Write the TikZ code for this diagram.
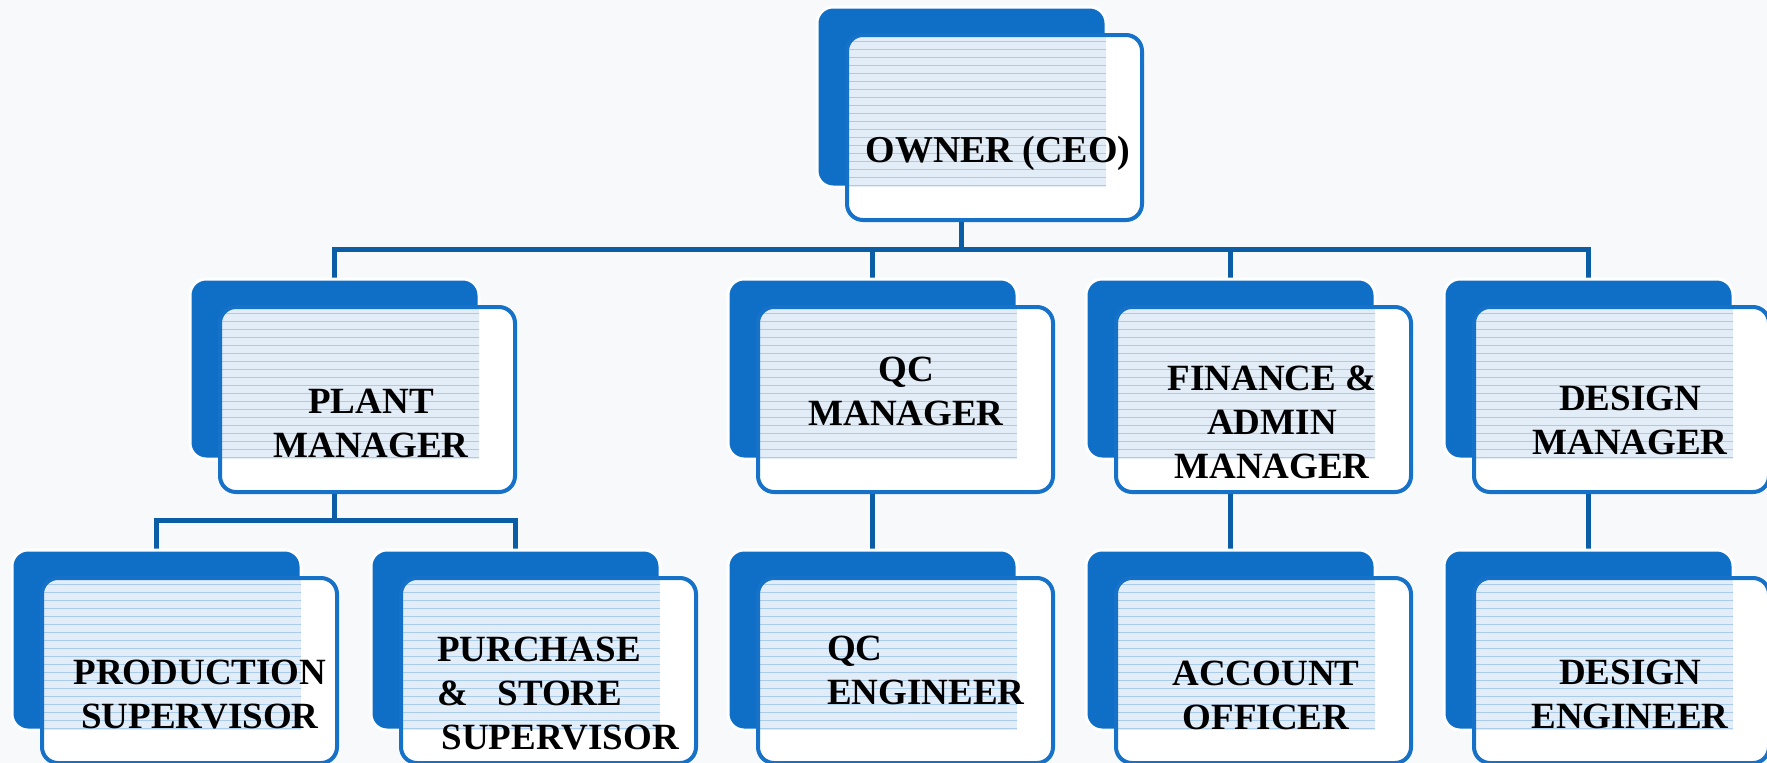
\documentclass[tikz,border=0pt]{standalone}
\usepackage{fontspec}
\setmainfont{Liberation Serif}
\usetikzlibrary{calc}
\definecolor{bgcol}{HTML}{F8F9FA}
\definecolor{backblue}{HTML}{0F6FC6}
\definecolor{edgeblue}{HTML}{1672C8}
\definecolor{linkblue}{HTML}{0B5DA6}
\definecolor{stripefill}{HTML}{E2EDF8}
\definecolor{stripeline}{HTML}{A9CBEC}
\pgfdeclarelayer{bgfill}
\pgfdeclarelayer{bglinks}
\pgfsetlayers{bgfill,bglinks,main}
\tikzset{
  backbox/.style={rectangle, rounded corners=16pt, fill=backblue, draw=white, line width=3pt,
    minimum width=289pt, minimum height=180pt, inner sep=0pt, outer sep=0pt},
  frontbox/.style={rectangle, rounded corners=16pt, fill=white,
    minimum width=295pt, minimum height=185pt, inner sep=0pt, outer sep=0pt},
  frontedge/.style={draw=edgeblue, line width=4pt, rounded corners=16pt},
  stripeln/.style={draw=stripeline, line width=0.9pt},
  conn/.style={draw=linkblue, line width=5pt},
  lbl/.style={font=\fontsize{37}{44}\selectfont\bfseries, text=black, align=center, inner sep=0pt},
  lbll/.style={font=\fontsize{37}{44}\selectfont\bfseries, text=black, align=left, inner sep=0pt},
}
\newcommand{\orgunit}[3]{%
  \node[backbox, anchor=north west] (#1B) at (#2,#3) {};
  \node[frontbox, anchor=north west] (#1) at ($(#1B.north west)+(30,28)$) {};
  \begin{scope}
    \clip[rounded corners=16pt] (#1.north west) rectangle (#1.south east);
    \fill[stripefill] (#1.north west) rectangle (#1B.south east);
    \foreach \k in {0,...,18} {
      \draw[stripeln] ($(#1.north west)+(0,6+\k*8)$) -- ++(259,0);
    }
  \end{scope}
  \draw[frontedge] (#1.north west) rectangle (#1.south east);
}
\begin{document}
\begin{tikzpicture}[x=1pt,y=-1pt]
\useasboundingbox (0,0) rectangle (1767,763);
\begin{pgfonlayer}{bgfill}
  \fill[bgcol] (0,0) rectangle (1767,763);
\end{pgfonlayer}

% units
\orgunit{ceo}{817}{7}
\orgunit{plant}{190}{279}
\orgunit{qcm}{728}{279}
\orgunit{fin}{1086}{279}
\orgunit{desm}{1444}{279}
\orgunit{prod}{12}{550}
\orgunit{purch}{371}{550}
\orgunit{qce}{728}{550}
\orgunit{acc}{1086}{550}
\orgunit{dese}{1444}{550}

% labels
\node[lbl, font=\fontsize{38}{46}\selectfont\bfseries] (tceo) at (998,153) {OWNER (CEO)};
\node[lbl] (tplant) at (371,423) {PLANT\\MANAGER};
\node[lbl] (tqcm) at (906,391) {QC\\MANAGER};
\node[lbl] (tfin) at (1272,422) {FINANCE \&\\ADMIN\\MANAGER};
\node[lbl] (tdesm) at (1630,420) {DESIGN\\MANAGER};
\node[lbl] (tprod) at (200,695) {PRODUCTION\\SUPERVISOR};
\node[lbll, anchor=west] (tpurch) at (437,694) {PURCHASE\\\&\hspace{0.55em} STORE\\\hspace{0.12em}SUPERVISOR};
\node[lbll, anchor=west] (tqce) at (827,670) {QC\\ENGINEER};
\node[lbl] (tacc) at (1266,695) {ACCOUNT\\OFFICER};
\node[lbl] (tdese) at (1630,694) {DESIGN\\ENGINEER};

% connectors
\begin{pgfonlayer}{bglinks}
  \coordinate (bus1) at (960,249);
  \coordinate (bus2) at (334,520);
  \draw[conn] (ceoB.south |- ceo.south) -- (ceoB.south |- bus1);
  \draw[conn] (plantB.north) -- (plantB.north |- bus1) -- (desmB.north |- bus1) -- (desmB.north);
  \draw[conn] (qcmB.north) -- (qcmB.north |- bus1);
  \draw[conn] (finB.north) -- (finB.north |- bus1);
  \draw[conn] (plantB.south |- plant.south) -- (plantB.south |- bus2);
  \draw[conn] (prodB.north) -- (prodB.north |- bus2) -- (purchB.north |- bus2) -- (purchB.north);
  \draw[conn] (qcmB.south |- qcm.south) -- (qceB.north);
  \draw[conn] (finB.south |- fin.south) -- (accB.north);
  \draw[conn] (desmB.south |- desm.south) -- (deseB.north);
\end{pgfonlayer}
\end{tikzpicture}
\end{document}
